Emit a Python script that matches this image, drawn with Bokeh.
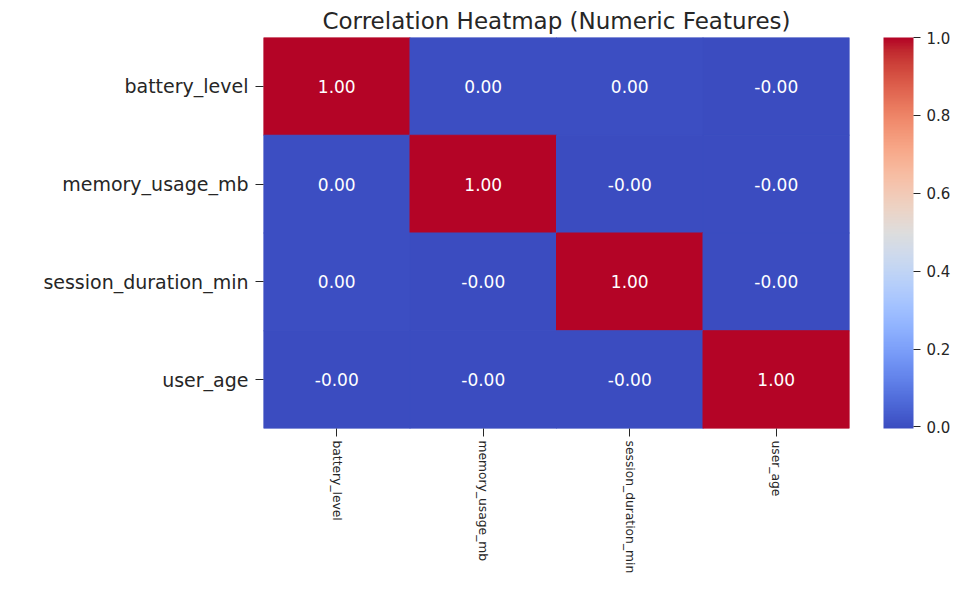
from bokeh.plotting import figure
from bokeh.models import (ColumnDataSource, LinearColorMapper, ColorBar, FixedTicker,
                          PrintfTickFormatter, FactorRange)
from bokeh.core.properties import value
from bokeh.embed import file_html
from bokeh.resources import INLINE

# ---- data ----
features = ["battery_level", "memory_usage_mb", "session_duration_min", "user_age"]
row_battery = [1.00, 0.003, 0.001, -0.002]
row_memory = [0.003, 1.00, -0.004, -0.001]
row_session = [0.001, -0.004, 1.00, -0.003]
row_user_age = [-0.002, -0.001, -0.003, 1.00]
cbar_ticks = [0.0, 0.2, 0.4, 0.6, 0.8, 1.0]

rows = [row_battery, row_memory, row_session, row_user_age]

# ---- coolwarm palette (Moreland diverging table) ----
_cw = [
    (59, 76, 192), (68, 90, 204), (77, 104, 215), (87, 117, 225), (98, 130, 234),
    (108, 142, 241), (119, 154, 247), (130, 165, 251), (141, 176, 254), (152, 185, 255),
    (163, 194, 255), (174, 201, 253), (184, 208, 249), (194, 213, 244), (204, 217, 238),
    (213, 219, 230), (221, 221, 221), (229, 216, 209), (236, 211, 197), (241, 204, 185),
    (245, 196, 173), (247, 187, 160), (247, 177, 148), (247, 166, 135), (244, 154, 123),
    (241, 141, 111), (236, 127, 99), (229, 112, 88), (222, 96, 77), (213, 80, 66),
    (203, 62, 56), (192, 40, 47), (180, 4, 38)]


def _palette(n=256):
    out = []
    m = len(_cw) - 1
    for i in range(n):
        t = i / (n - 1) * m
        k = min(int(t), m - 1)
        f = t - k
        c = [round(_cw[k][j] + (_cw[k + 1][j] - _cw[k][j]) * f) for j in range(3)]
        out.append("#%02x%02x%02x" % tuple(c))
    return out


palette = _palette()

xs, ys, vals, labels = [], [], [], []
for r, rname in enumerate(features):
    for c, cname in enumerate(features):
        v = rows[r][c]
        xs.append(cname)
        ys.append(rname)
        vals.append(v)
        labels.append("{:.2f}".format(v))

source = ColumnDataSource(dict(x=xs, y=ys, v=vals, label=labels))
vmin = min(vals)
vmax = max(vals)
mapper = LinearColorMapper(palette=palette, low=vmin, high=vmax)

FONT = "DejaVu Sans"
TXT = "#262626"

p = figure(width=953, height=576, output_backend="svg", toolbar_location=None,
           x_range=FactorRange(factors=features),
           y_range=FactorRange(factors=list(reversed(features))),
           min_border_left=263, min_border_right=103, min_border_top=37,
           min_border_bottom=148, title="Correlation Heatmap (Numeric Features)")

cmap = {"field": "v", "transform": mapper}
p.rect(x="x", y="y", width=1, height=1, source=source,
       fill_color=cmap, line_color=cmap, line_width=1)
p.text(x="x", y="y", text="label", source=source, text_align="center",
       text_baseline="middle", text_color="#ffffff", text_font=value(FONT),
       text_font_size="17px")

p.title.align = "center"
p.title.text_font = FONT
p.title.text_font_style = "normal"
p.title.text_font_size = "23px"
p.title.text_color = TXT
p.title.standoff = 8

p.grid.visible = False
p.outline_line_color = None
p.background_fill_color = "white"

for ax in (p.xaxis[0], p.yaxis[0]):
    ax.axis_line_color = None
    ax.major_tick_in = 0
    ax.major_tick_line_color = TXT
    ax.major_label_text_font = FONT
    ax.major_label_text_color = TXT

p.yaxis.major_tick_out = 8
p.yaxis.major_label_standoff = 7
p.yaxis.major_label_text_font_size = "19px"
p.xaxis.major_tick_out = 8
p.xaxis.major_label_standoff = 4
p.xaxis.major_label_text_font_size = "12.3px"
p.xaxis.major_label_orientation = "vertical"

cbar = ColorBar(color_mapper=mapper, ticker=FixedTicker(ticks=cbar_ticks),
                formatter=PrintfTickFormatter(format="%.1f"),
                width=30, height=391, location=(34, 0), margin=0, padding=0,
                major_tick_in=0, major_tick_out=7, major_tick_line_color=TXT,
                major_tick_line_width=1,
                label_standoff=6, major_label_text_font=FONT,
                major_label_text_font_size="15px", major_label_text_color=TXT,
                background_fill_alpha=0, bar_line_color=None, border_line_color=None)
p.add_layout(cbar, "right")

open("out.html", "w").write(file_html(p, INLINE))
